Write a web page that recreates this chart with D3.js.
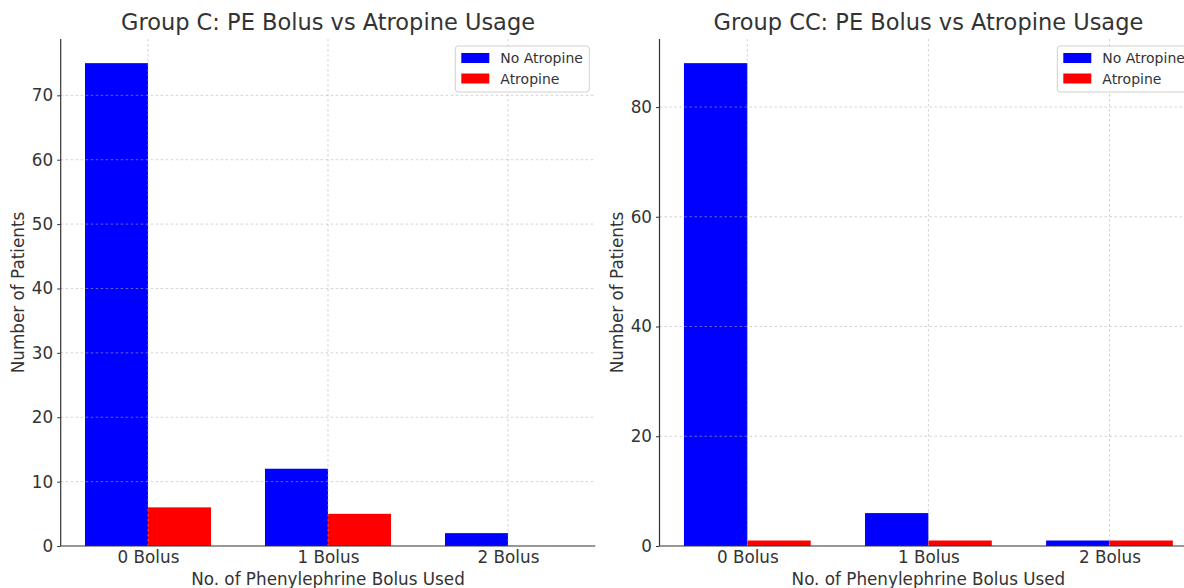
<!DOCTYPE html>
<html>
<head>
<meta charset="utf-8">
<script src="https://cdn.jsdelivr.net/npm/d3@7/dist/d3.min.js"></script>
<style>
  html, body { margin: 0; padding: 0; background: #fff; }
  svg { display: block; font-family: "DejaVu Sans", sans-serif; }
</style>
</head>
<body>
<svg id="chart" width="1184" height="588"></svg>
<script>
const categories = ["0 Bolus", "1 Bolus", "2 Bolus"];
const seriesNames = ["No Atropine", "Atropine"];
const seriesColors = ["#0000ff", "#ff0000"];
const groupCNoAtropine = [75, 12, 2];
const groupCAtropine = [6, 5, 0];
const groupCCNoAtropine = [88, 6, 1];
const groupCCAtropine = [1, 1, 1];
const groupCTicks = [0, 10, 20, 30, 40, 50, 60, 70];
const groupCCTicks = [0, 20, 40, 60, 80];
const titles = ["Group C: PE Bolus vs Atropine Usage", "Group CC: PE Bolus vs Atropine Usage"];
const xLabel = "No. of Phenylephrine Bolus Used";
const yLabel = "Number of Patients";

const svg = d3.select("#chart");
const textColor = "#333";
const barWidth = 0.35;

const panels = [
  { left: 60.7, right: 595.3, series: [groupCNoAtropine, groupCAtropine], ticks: groupCTicks, title: titles[0] },
  { left: 659.5, right: 1197.3, series: [groupCCNoAtropine, groupCCAtropine], ticks: groupCCTicks, title: titles[1] }
];
const plotTop = 39, plotBottom = 546;

panels.forEach((p, pi) => {
  const g = svg.append("g");
  const ymax = d3.max(p.series.flat()) * 1.05;
  const x = d3.scaleLinear().domain([-0.485, 2.485]).range([p.left, p.right]);
  const y = d3.scaleLinear().domain([0, ymax]).range([plotBottom, plotTop]);

  // bars
  p.series.forEach((vals, si) => {
    const off = si === 0 ? -barWidth : 0;
    g.selectAll(null).data(vals).enter().append("rect")
      .attr("x", (d, i) => x(i + off))
      .attr("width", x(barWidth) - x(0))
      .attr("y", d => y(d))
      .attr("height", d => y(0) - y(d))
      .attr("fill", seriesColors[si]);
  });

  // grid (on top, translucent)
  const grid = g.append("g").attr("stroke", "#b0b0b0").attr("stroke-opacity", 0.7)
    .attr("stroke-width", 0.8).attr("stroke-dasharray", "2.5,2.5");
  p.ticks.forEach(t => {
    if (t === 0) return;
    grid.append("line").attr("x1", p.left).attr("x2", p.right).attr("y1", y(t)).attr("y2", y(t));
  });
  categories.forEach((c, i) => {
    grid.append("line").attr("x1", x(i)).attr("x2", x(i)).attr("y1", plotTop).attr("y2", plotBottom);
  });

  // axes
  const yAxis = d3.axisLeft(y).tickValues(p.ticks).tickSize(3.5).tickPadding(4).tickFormat(d3.format("d"));
  const ya = g.append("g").attr("transform", `translate(${p.left},0)`).call(yAxis);
  const xAxis = d3.axisBottom(x).tickValues(categories.map((c, i) => i)).tickSize(0).tickPadding(5)
    .tickFormat(i => categories[i]);
  const xa = g.append("g").attr("transform", `translate(0,${plotBottom})`).call(xAxis);
  [ya, xa].forEach(a => {
    a.select(".domain").remove();
    a.selectAll("text").attr("fill", textColor).style("font-size", "16.8px").style("font-family", "DejaVu Sans");
    a.selectAll("line").attr("stroke", "#333");
  });
  g.append("line").attr("x1", p.left).attr("x2", p.left).attr("y1", plotTop).attr("y2", plotBottom)
    .attr("stroke", "#333").attr("stroke-width", 1.2);
  g.append("line").attr("x1", p.left).attr("x2", p.right).attr("y1", plotBottom).attr("y2", plotBottom)
    .attr("stroke", "#333").attr("stroke-width", 1.2);

  // labels
  const cx = (p.left + p.right) / 2;
  g.append("text").attr("x", cx).attr("y", 30).attr("text-anchor", "middle")
    .attr("fill", textColor).style("font-size", "22.5px").text(p.title);
  g.append("text").attr("x", cx).attr("y", 585).attr("text-anchor", "middle")
    .attr("fill", textColor).style("font-size", "16.8px").text(xLabel);
  g.append("text").attr("transform", `translate(${p.left - 37},${(plotTop + plotBottom) / 2}) rotate(-90)`)
    .attr("text-anchor", "middle").attr("fill", textColor).style("font-size", "16.8px").text(yLabel);

  // legend
  const lw = 134, lx = p.right - 6 - lw, ly = 46;
  const lg = g.append("g");
  lg.append("rect").attr("x", lx).attr("y", ly).attr("width", lw).attr("height", 46)
    .attr("rx", 3).attr("fill", "#fff").attr("fill-opacity", 0.8).attr("stroke", "#d0d0d0");
  seriesNames.forEach((s, si) => {
    lg.append("rect").attr("x", lx + 6).attr("y", ly + 7 + si * 20.5).attr("width", 28).attr("height", 10)
      .attr("fill", seriesColors[si]);
    lg.append("text").attr("x", lx + 45).attr("y", ly + 16.5 + si * 21.5).attr("fill", textColor)
      .style("font-size", "14px").text(s);
  });
});
</script>
</body>
</html>
